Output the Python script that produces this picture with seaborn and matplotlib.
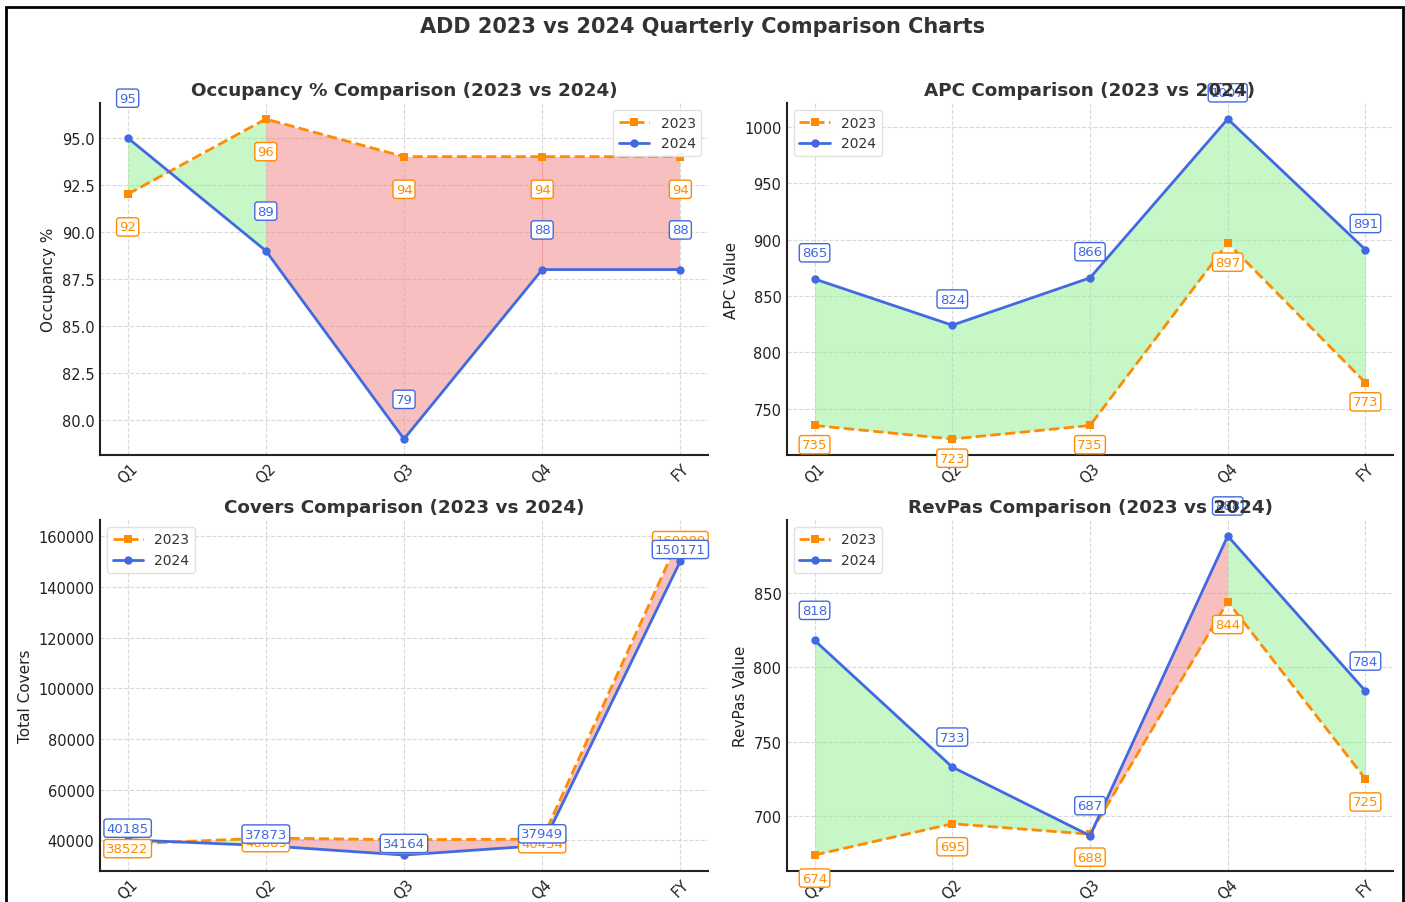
import matplotlib
matplotlib.use("Agg")
import matplotlib.pyplot as plt
from matplotlib.patches import Rectangle
import numpy as np
import seaborn as sns

# Quarterly figures
periods = ["Q1", "Q2", "Q3", "Q4", "FY"]

occupancy_2023 = [92, 96, 94, 94, 94]
occupancy_2024 = [95, 89, 79, 88, 88]

apc_2023 = [735, 723, 735, 897, 773]
apc_2024 = [865, 824, 866, 1007, 891]

covers_2023 = [38522, 40889, 40224, 40454, 160089]
covers_2024 = [40185, 37873, 34164, 37949, 150171]

revpas_2023 = [674, 695, 688, 844, 725]
revpas_2024 = [818, 733, 687, 888, 784]

sns.set_style("whitegrid", {"grid.linestyle": "--", "grid.color": "#d9d9d9",
                            "axes.edgecolor": "#222222"})
plt.rcParams["font.family"] = ["DejaVu Sans"]

W, H = 1405, 903
fig = plt.figure(figsize=(W / 100, H / 100), dpi=100)

C23 = "darkorange"
C24 = "royalblue"


def px_axes(left, top, right, bottom):
    return fig.add_axes([left / W, 1 - bottom / H, (right - left) / W, (bottom - top) / H])


def draw_panel(ax, v23, v24, title, ylabel, legend_loc):
    x = np.arange(len(periods))
    v23 = np.asarray(v23, dtype=float)
    v24 = np.asarray(v24, dtype=float)

    # shade each interval by which year leads at its start
    for i in range(len(x) - 1):
        col = "lightgreen" if v24[i] > v23[i] else "lightcoral"
        ax.fill_between(x[i:i + 2], v23[i:i + 2], v24[i:i + 2], color=col, alpha=0.5, lw=0)

    sns.lineplot(x=x, y=v23, ax=ax, color=C23, marker="s", linestyle="--",
                 linewidth=2, markersize=6, markeredgewidth=0, label="2023")
    sns.lineplot(x=x, y=v24, ax=ax, color=C24, marker="o", linestyle="-",
                 linewidth=2, markersize=6, markeredgewidth=0, label="2024")

    off = 0.02 * max(v23.max(), v24.max())
    for xi, a, b in zip(x, v23, v24):
        ax.text(xi, a - off, f"{int(a)}", ha="center", va="baseline", fontsize=9.5, color=C23,
                bbox=dict(boxstyle="round,pad=0.2", fc="white", ec=C23, lw=1))
        ax.text(xi, b + off, f"{int(b)}", ha="center", va="baseline", fontsize=9.5, color=C24,
                bbox=dict(boxstyle="round,pad=0.2", fc="white", ec=C24, lw=1))

    ax.set_xticks(x)
    ax.set_xticklabels(periods, rotation=45)
    ax.tick_params(axis="both", labelsize=10.5, length=0, pad=4, colors="#222222")
    ax.set_title(title, fontsize=13.2, fontweight="bold", color="#333333", pad=6)
    ax.set_ylabel(ylabel, fontsize=11, color="#222222")
    ax.set_xlabel("")
    ax.grid(True, linestyle="--", color="#d9d9d9", linewidth=0.8)
    for side in ("top", "right"):
        ax.spines[side].set_visible(False)
    for side in ("left", "bottom"):
        ax.spines[side].set_linewidth(1.5)
        ax.spines[side].set_color("#222222")
    if ylabel == "Total Covers":
        ax.ticklabel_format(axis="y", style="plain", useOffset=False)
    leg = ax.legend(loc=legend_loc, fontsize=10, frameon=True, framealpha=0.9,
                    edgecolor="#dddddd", handlelength=2.2)
    for t in leg.get_texts():
        t.set_color("#333333")


ax1 = px_axes(100, 104, 708, 456)
ax2 = px_axes(787, 104, 1393, 456)
ax3 = px_axes(100, 521, 708, 872)
ax4 = px_axes(787, 521, 1393, 872)

draw_panel(ax1, occupancy_2023, occupancy_2024, "Occupancy % Comparison (2023 vs 2024)",
           "Occupancy %", "upper right")
draw_panel(ax2, apc_2023, apc_2024, "APC Comparison (2023 vs 2024)", "APC Value", "upper left")
draw_panel(ax3, covers_2023, covers_2024, "Covers Comparison (2023 vs 2024)", "Total Covers",
           "upper left")
draw_panel(ax4, revpas_2023, revpas_2024, "RevPas Comparison (2023 vs 2024)", "RevPas Value",
           "upper left")

fig.suptitle("ADD 2023 vs 2024 Quarterly Comparison Charts", fontsize=15, fontweight="bold",
             color="#333333", y=1 - 27 / H, va="center")

# outer frame around the whole figure
fig.patches.append(Rectangle((6 / W, -0.2), (1403 - 6) / W, 1.2 - 8 / H, transform=fig.transFigure,
                             fill=False, ec="black", lw=2, zorder=10))

fig.savefig("out.png", dpi=100)
